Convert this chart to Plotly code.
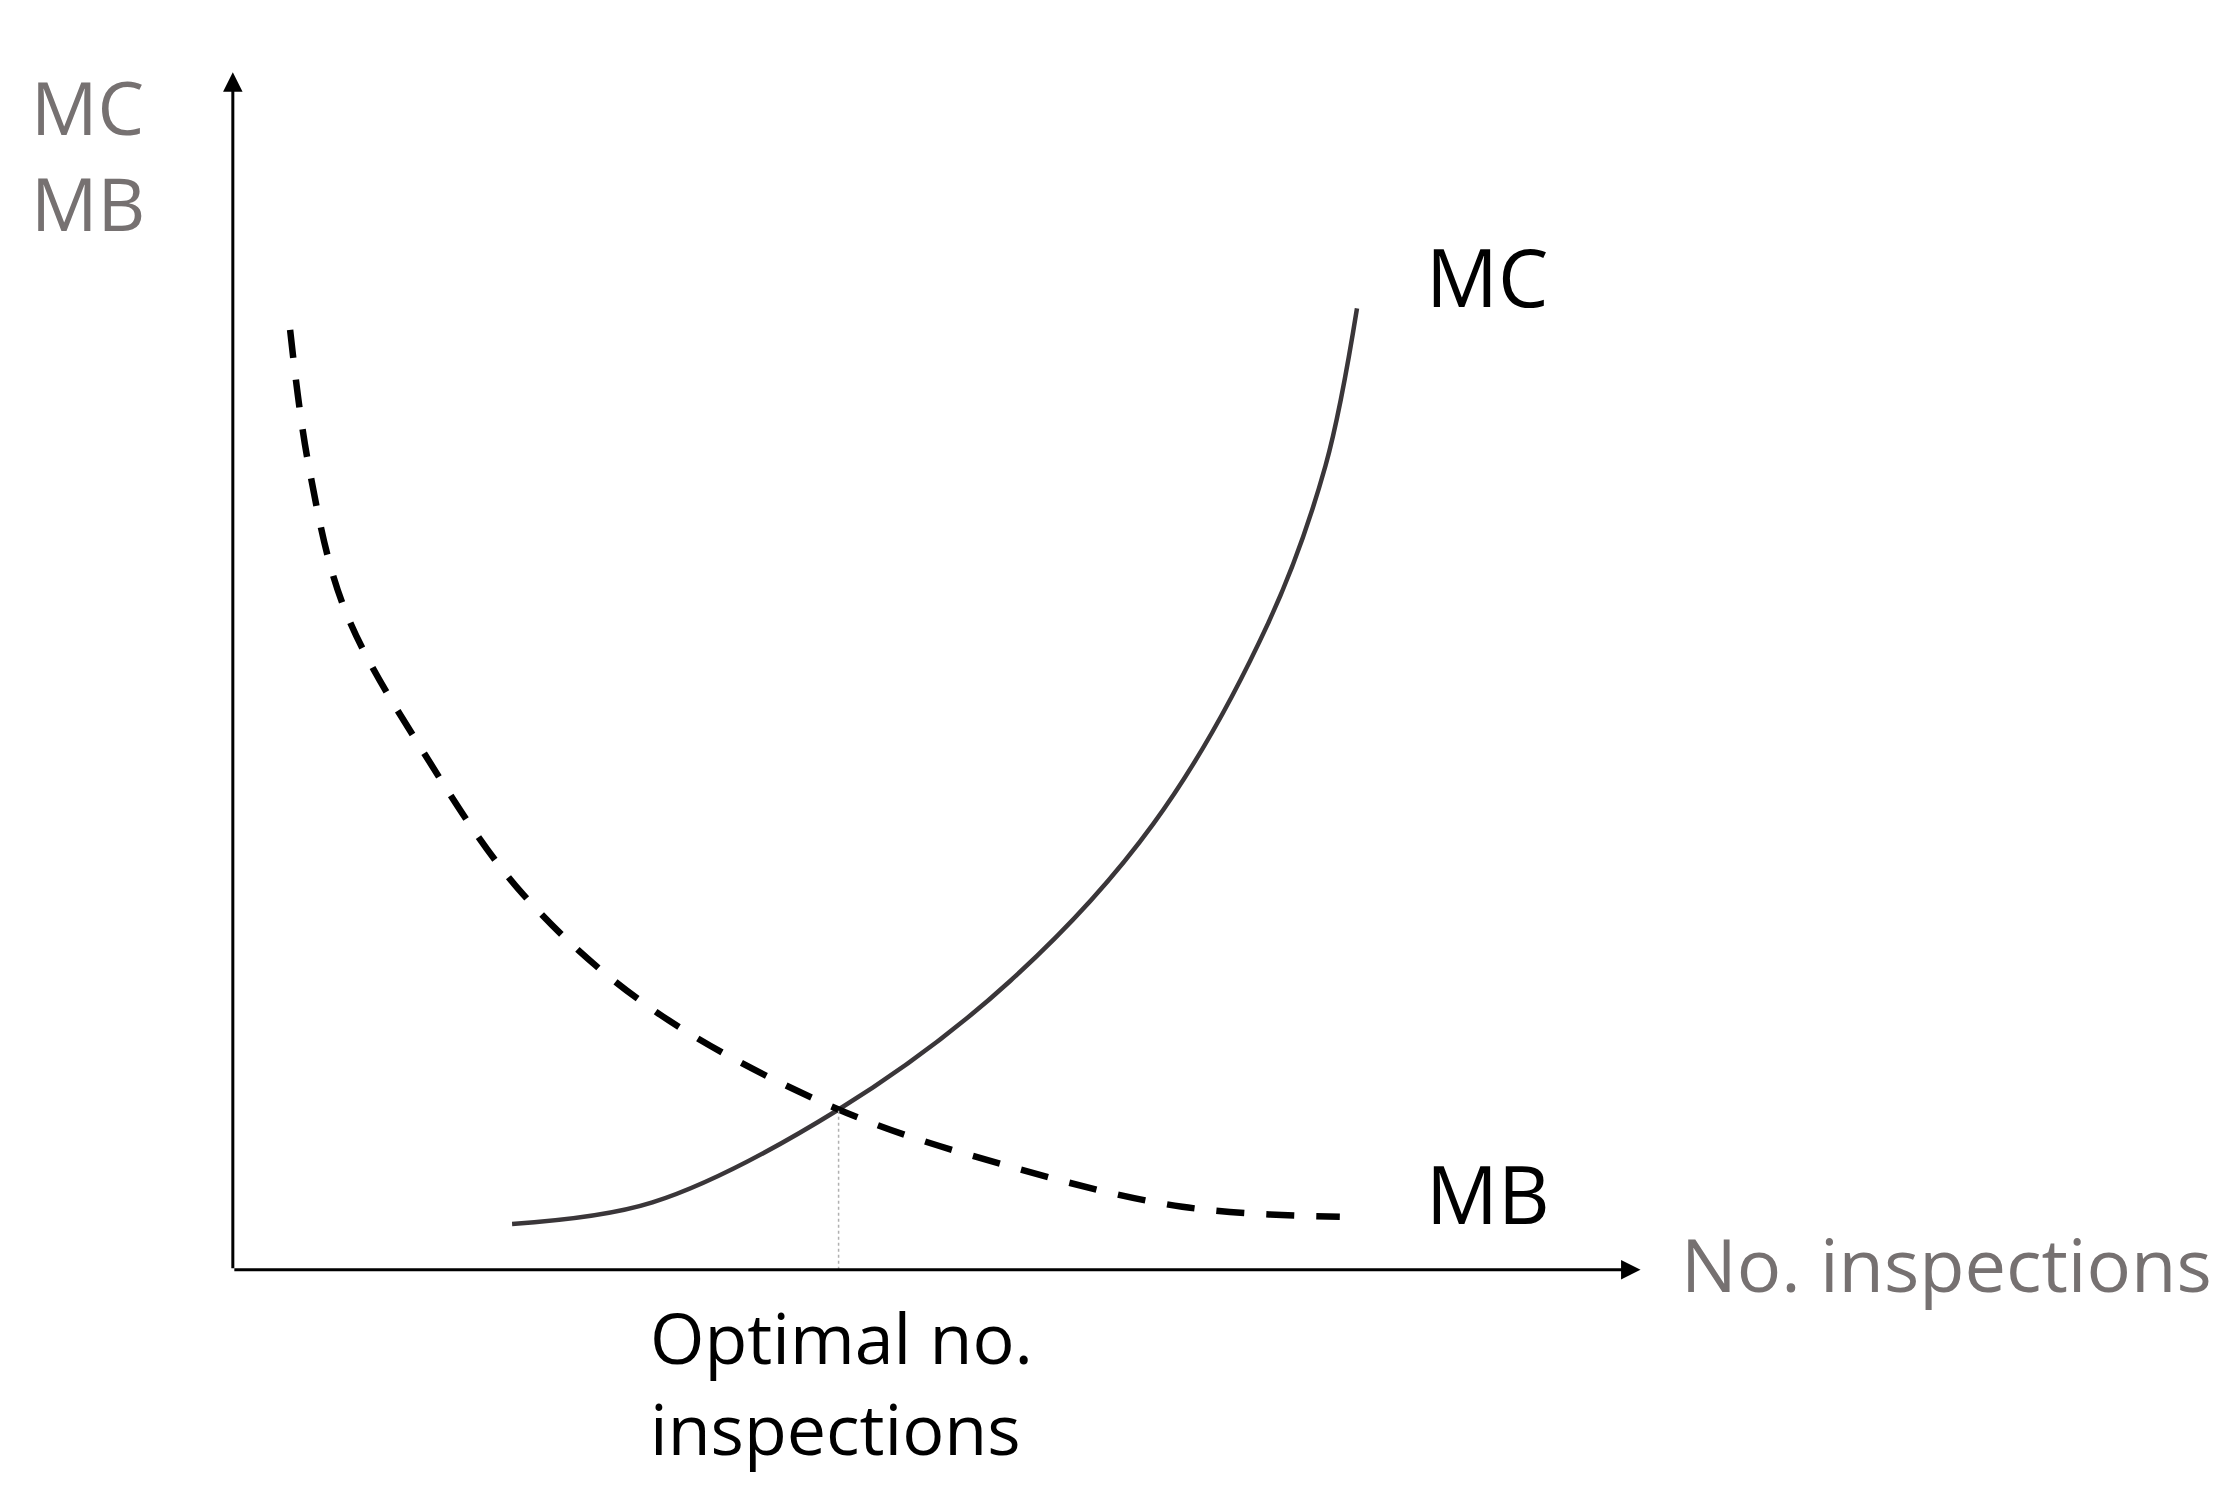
import plotly.graph_objects as go

mc_x = [195, 293, 423, 543, 643, 723, 763, 785]
mc_y = [32, 47, 112, 202, 312, 452, 562, 672]
mb_x = [40, 53, 78, 133, 203, 293, 423, 543, 663, 773]
mb_y = [657, 562, 462, 362, 262, 182, 112, 72, 44, 37]
opt_x = 423
opt_y = 112

FONT = "Open Sans"
GRAY = "#767171"
fig = go.Figure()
fig.add_trace(go.Scatter(x=mc_x, y=mc_y, mode="lines", line=dict(color="#3a3639", width=4.5, shape="spline")))
fig.add_trace(go.Scatter(x=mb_x, y=mb_y, mode="lines", line=dict(color="black", width=6.5, shape="spline", dash="28px,22px")))
fig.add_trace(go.Scatter(x=[opt_x, opt_x], y=[0, opt_y], mode="lines", line=dict(color="#b0b0b0", width=1.5, dash="dot")))

ann = [
    dict(x=0, y=837, ax=0, ay=0, xref="x", yref="y", axref="x", ayref="y", showarrow=True, arrowhead=2, arrowsize=1.3, arrowwidth=3, arrowcolor="black", text=""),
    dict(x=983, y=0, ax=0, ay=0, xref="x", yref="y", axref="x", ayref="y", showarrow=True, arrowhead=2, arrowsize=1.3, arrowwidth=3, arrowcolor="black", text=""),
    dict(x=832, y=695, text="MC", showarrow=False, xanchor="left", yanchor="middle", font=dict(size=80, color="black", family=FONT)),
    dict(x=832, y=54, text="MB", showarrow=False, xanchor="left", yanchor="middle", font=dict(size=80, color="black", family=FONT)),
    dict(x=1010, y=4, text="No. inspections", showarrow=False, xanchor="left", yanchor="middle", font=dict(size=74, color=GRAY, family=FONT)),
    dict(x=-142, y=850, text="MC<br>MB", showarrow=False, xanchor="left", yanchor="top", align="left", font=dict(size=74, color=GRAY, family=FONT)),
    dict(x=290, y=-12, text="Optimal no.<br>inspections", showarrow=False, xanchor="left", yanchor="top", align="left", font=dict(size=70, color="black", family=FONT)),
]
fig.update_layout(
    width=2234, height=1502, margin=dict(l=0, r=0, t=0, b=0),
    paper_bgcolor="white", plot_bgcolor="white", showlegend=False,
    xaxis=dict(range=[-157, 1403], visible=False),
    yaxis=dict(range=[-168, 882], visible=False),
    annotations=ann,
)
fig.write_html("out.html")
